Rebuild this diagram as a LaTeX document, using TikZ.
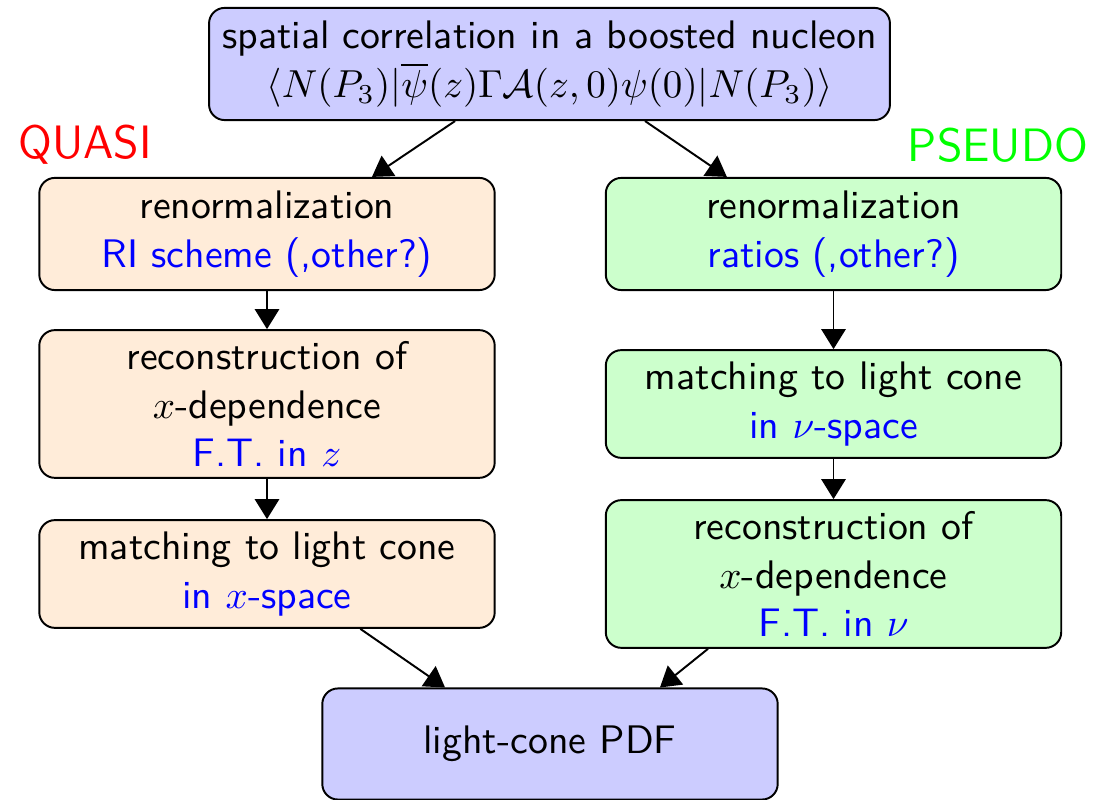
\documentclass[tikz,border=0pt]{standalone}
\usetikzlibrary{arrows,arrows.meta}
\renewcommand{\familydefault}{\sfdefault}

\begin{document}
\begin{tikzpicture}[x=0.009cm,y=-0.009cm]
			\tikzstyle{stage}= [
				rectangle, rounded corners = 4pt, draw = black, line width = 0.5pt,
				align = center, inner sep = 2pt, minimum width = 4.1cm,
				font = \fontsize{10.2pt}{12.5pt}\selectfont
			]
			\tikzstyle{corr}=[stage, fill = blue!20]
			\tikzstyle{quasi}=[stage, fill = orange!15]
			\tikzstyle{pseudo}=[stage, fill = green!20]
			\tikzstyle{line}=[-{Triangle[width=6.2pt,length=5.1pt]},draw=black,line width=0.5pt]
			\useasboundingbox (0,0) rectangle (1094,800);
			\node[corr, minimum width = 6.13cm, minimum height = 1.01cm] (top) at (549.5,64)
				{spatial correlation in a boosted nucleon\\
				$\langle N(P_3)|\overline{\psi}(z)\Gamma\mathcal{A}(z,0)\psi(0)|N(P_3)\rangle$};
			\node[text = red, font = \large] (quasi) at (85,145) {QUASI};
			\node[text = green, font = \large] (pseudo) at (998,145) {PSEUDO};
			\node[quasi, minimum height = 1.01cm] (renL) at (267,234)
				{renormalization\\ \textcolor{blue}{RI scheme (,other?)}};
			\node[quasi, minimum height = 1.33cm] (recL) at (267,404)
				{reconstruction of\\ $x$-dependence\\ \textcolor{blue}{F.T. in $z$}};
			\node[quasi, minimum height = 0.97cm] (matL) at (267,574)
				{matching to light cone\\ \textcolor{blue}{in $x$-space}};
			\node[pseudo, minimum height = 1.01cm] (renR) at (833.5,234)
				{renormalization\\ \textcolor{blue}{ratios (,other?)}};
			\node[pseudo, minimum height = 0.97cm] (matR) at (833.5,404)
				{matching to light cone\\ \textcolor{blue}{in $\nu$-space}};
			\node[pseudo, minimum height = 1.33cm] (recR) at (833.5,574)
				{reconstruction of\\ $x$-dependence\\ \textcolor{blue}{F.T. in $\nu$}};
			\node[corr, minimum height = 1.0cm] (pdf) at (550,744) {light-cone PDF};
			\draw ([xshift=-0.85cm]top.south) to ([xshift=0.945cm]renL.north) [line];
			\draw ([xshift=0.86cm]top.south) to ([xshift=-0.96cm]renR.north) [line];
			\draw (renL) to (recL) [line];
			\draw (recL) to (matL) [line];
			\draw (renR) to (matR) [line];
			\draw (matR) to (recR) [line];
			\draw ([xshift=0.84cm]matL.south) to ([xshift=-0.945cm]pdf.north) [line];
			\draw ([xshift=-1.13cm]recR.south) to ([xshift=0.99cm]pdf.north) [line];
		\end{tikzpicture}
\end{document}
